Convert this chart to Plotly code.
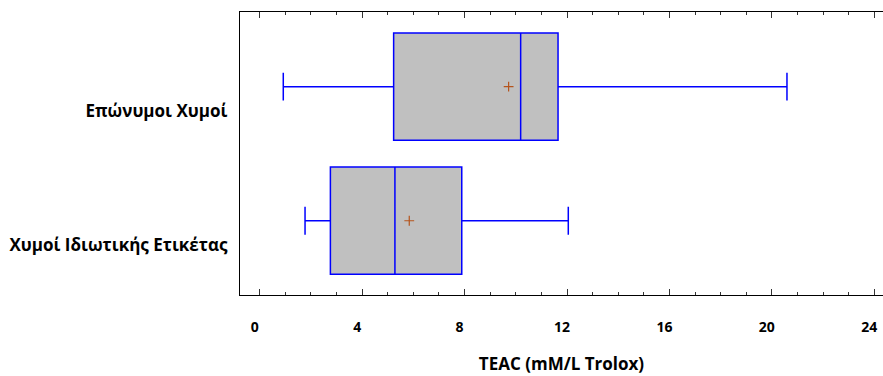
import plotly.graph_objects as go

categories = ["Χυμοί Ιδιωτικής Ετικέτας", "Επώνυμοι Χυμοί"]
lower_whisker = [1.77, 0.92]
q1 = [2.76, 5.23]
median = [5.28, 10.19]
q3 = [7.89, 11.65]
upper_whisker = [12.05, 20.59]
mean = [5.84, 9.72]

x_ticks = [0, 4, 8, 12, 16, 20, 24]
x_title = "TEAC (mM/L Trolox)"

FONT = "Open Sans"

fig = go.Figure()
fig.add_trace(go.Box(
    y=categories,
    q1=q1, median=median, q3=q3,
    lowerfence=lower_whisker, upperfence=upper_whisker,
    orientation="h",
    fillcolor="#c0c0c0",
    line=dict(color="#0000ff", width=1.5),
    width=0.8,
    whiskerwidth=0.26,
    boxpoints=False,
    showlegend=False,
    hoverinfo="skip",
))
# mean markers, drawn on the top (mirrored) x axis, which shares the same scale
fig.add_trace(go.Scatter(
    x=mean, y=categories, mode="markers",
    xaxis="x2",
    marker=dict(symbol="cross-thin", size=7, line=dict(color="#b5541c", width=1.2)),
    showlegend=False, hoverinfo="skip",
))

tick_style = dict(
    range=[-0.77, 24.34],
    tickvals=x_ticks,
    ticks="inside", ticklen=6, tickwidth=1, tickcolor="#333",
    minor=dict(ticks="inside", ticklen=3, dtick=1, tick0=0, tickcolor="#333", showgrid=False),
    showline=True, linecolor="black", linewidth=1.3,
    showgrid=False, zeroline=False,
)

fig.update_layout(
    width=883, height=376,
    margin=dict(l=240, r=0, t=12, b=81),
    plot_bgcolor="white", paper_bgcolor="white",
    font=dict(family=FONT, color="black"),
    xaxis=dict(
        **tick_style,
        ticktext=[str(v) for v in x_ticks],
        tickfont=dict(family=FONT, size=14, color="black", weight="bold"),
        ticklabelstandoff=19,
        ticklabelshift=-5,
        title=dict(text=f"<b>{x_title}</b>", font=dict(family=FONT, size=17, color="black"), standoff=23),
    ),
    xaxis2=dict(
        **tick_style,
        overlaying="x", side="top", matches="x",
        showticklabels=False,
    ),
    yaxis=dict(
        type="category",
        categoryorder="array", categoryarray=categories,
        range=[-0.554, 1.557],
        showline=True, linecolor="black", linewidth=1.3,
        ticks="", showgrid=False, zeroline=False,
        tickfont=dict(family=FONT, size=17, color="black", weight="bold"),
        ticklabelstandoff=8,
        ticklabelshift=24,
    ),
)

fig.write_html("out.html")
